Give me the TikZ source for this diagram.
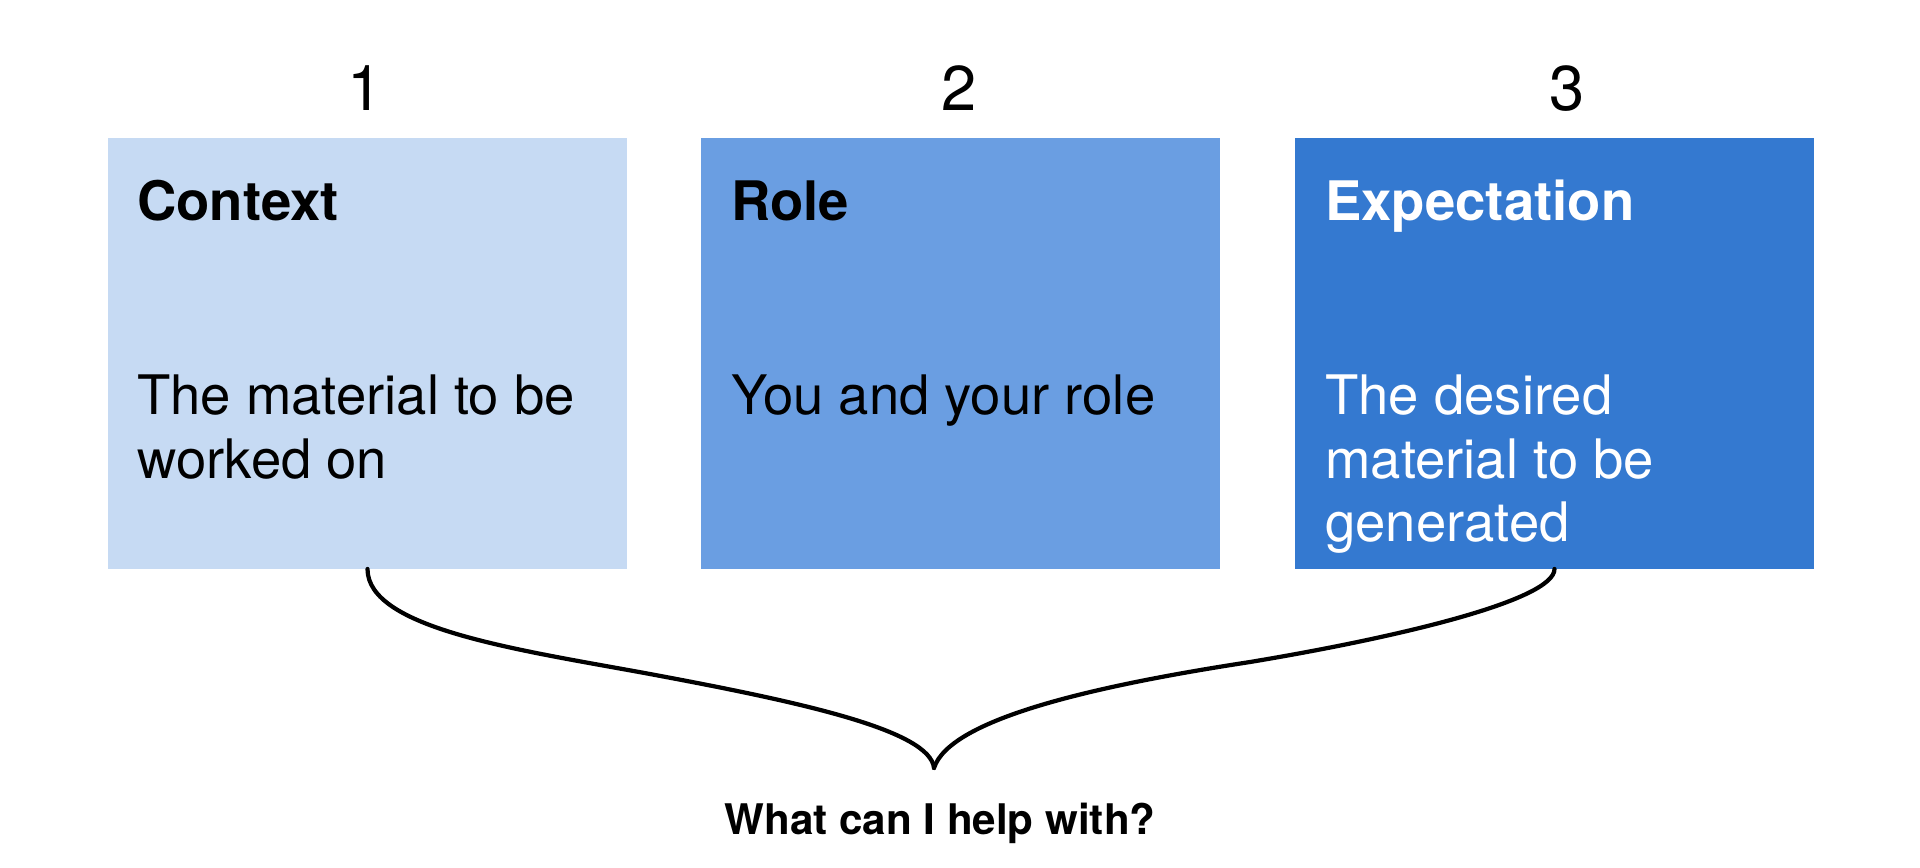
\documentclass[tikz,border=0pt]{standalone}
\usepackage{fontspec}
\setmainfont{TeX Gyre Heros}
\usepackage{tikz}

\definecolor{boxlight}{HTML}{C6DAF3}
\definecolor{boxmid}{HTML}{6A9EE2}
\definecolor{boxdark}{HTML}{3479D0}

\begin{document}
\begin{tikzpicture}[x=0.02cm, y=-0.02cm,
  card/.style={rectangle, minimum width=10.38cm, minimum height=8.62cm, inner sep=0pt, outer sep=0pt},
  head/.style={anchor=base west, inner sep=0pt, font=\fontsize{31}{36.4}\selectfont\bfseries},
  body/.style={anchor=north west, inner sep=0pt, align=left, font=\fontsize{31}{36.4}\selectfont},
  num/.style={anchor=base, inner sep=0pt, font=\fontsize{36}{43}\selectfont},
  brace/.style={line width=2.4pt, line cap=round}]

\useasboundingbox (0,0) rectangle (1920,867);

\node[card, fill=boxlight] (ctx) at (367.5,353.5) {};
\node[card, fill=boxmid] (role) at (960.5,353.5) {};
\node[card, fill=boxdark] (expt) at (1554.5,353.5) {};

\node[num] (n1) at (365,110) {1};
\node[num] (n2) at (959,110) {2};
\node[num] (n3) at (1567,110) {3};

\node[head] (ctxhead) at (137,220) {Context};
\node[head] (rolehead) at (731,220) {Role};
\node[head, white] (expthead) at (1325,220) {Expectation};

\node[body] (ctxtext) at (137,374) {The material to be\\worked on};
\node[body] (roletext) at (731,374) {You and your role};
\node[body, white] (expttext) at (1325,374) {The desired\\material to be\\generated};

\coordinate (tip) at (934,768);
\coordinate (lmid) at (650,674);
\coordinate (rmid) at (1250,662);

\draw[brace] (ctx.south) .. controls +(0,60) and +(-130,-24) .. (lmid)
  .. controls +(150,28) and +(-4,-38) .. (tip);
\draw[brace] (expt.south) .. controls +(0,31) and +(150,-25) .. (rmid)
  .. controls +(-150,23) and +(16,-50) .. (tip);

\node[font=\fontsize{24}{29}\selectfont\bfseries] (ask) at (940,823) {What can I help with?};
\end{tikzpicture}
\end{document}
